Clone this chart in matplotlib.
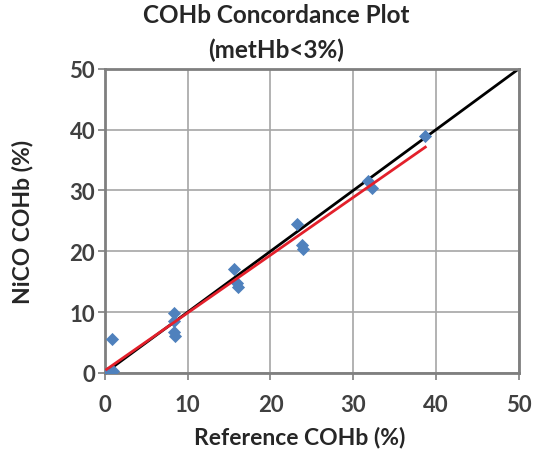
import numpy as np
import matplotlib.pyplot as plt

plt.rcParams['font.family'] = ['Lato', 'DejaVu Sans']

ref_cohb = [0.2, 1.0, 0.9, 8.3, 8.3, 8.4, 8.5, 15.6, 16.0, 16.1, 23.2, 23.8, 23.9, 31.8, 32.3, 38.7]
nico_cohb = [0.0, 0.3, 5.5, 9.9, 8.6, 6.8, 6.1, 17.1, 14.8, 14.2, 24.4, 21.0, 20.4, 31.6, 30.4, 39.0]
ticks = [0, 10, 20, 30, 40, 50]

fig = plt.figure(figsize=(5.52, 4.56), dpi=100)
ax = fig.add_axes([0.190, 0.180, 0.750, 0.667])

ax.plot([0, 50], [0, 50], color='black', lw=2, zorder=2)
ax.scatter(ref_cohb, nico_cohb, marker='D', s=45, color='#4f81bd', zorder=3, linewidths=0)

# linear trend over the data range
slope, icpt = np.polyfit(ref_cohb, nico_cohb, 1)
xs = np.array([min(ref_cohb), max(ref_cohb)])
ax.plot(xs, slope * xs + icpt, color='#e3202b', lw=2, zorder=4)

ax.set_xlim(0, 50)
ax.set_ylim(0, 50)
ax.set_xticks(ticks)
ax.set_yticks(ticks)
ax.grid(color='#a6a6a6', lw=1.2)
ax.set_axisbelow(True)
for s in ax.spines.values():
    s.set_color('#7f7f7f')
    s.set_linewidth(2)
ax.tick_params(colors='#7f7f7f', length=5, width=1.2, labelsize=16, labelcolor='#404040')
ax.tick_params(axis='x', pad=10)
ax.tick_params(axis='y', pad=2)
for lab in ax.get_xticklabels() + ax.get_yticklabels():
    lab.set_fontweight('bold')

ax.set_xlabel('Reference COHb (%)', fontsize=16.5, fontweight='bold', color='#262626')
ax.set_ylabel('NiCO COHb (%)', fontsize=16.5, fontweight='bold', color='#262626')
ax.xaxis.label.set_va('center')
ax.yaxis.label.set_va('center')
ax.xaxis.set_label_coords(0.47, -0.21)
ax.yaxis.set_label_coords(-0.20, 0.50)

fig.text(0.5, 0.965, 'COHb Concordance Plot', ha='center', va='center', fontsize=17.5, fontweight='bold', color='#262626')
fig.text(0.5, 0.89, '(metHb<3%)', ha='center', va='center', fontsize=17.5, fontweight='bold', color='#262626')

fig.savefig('out.png', dpi=100, facecolor='white')
